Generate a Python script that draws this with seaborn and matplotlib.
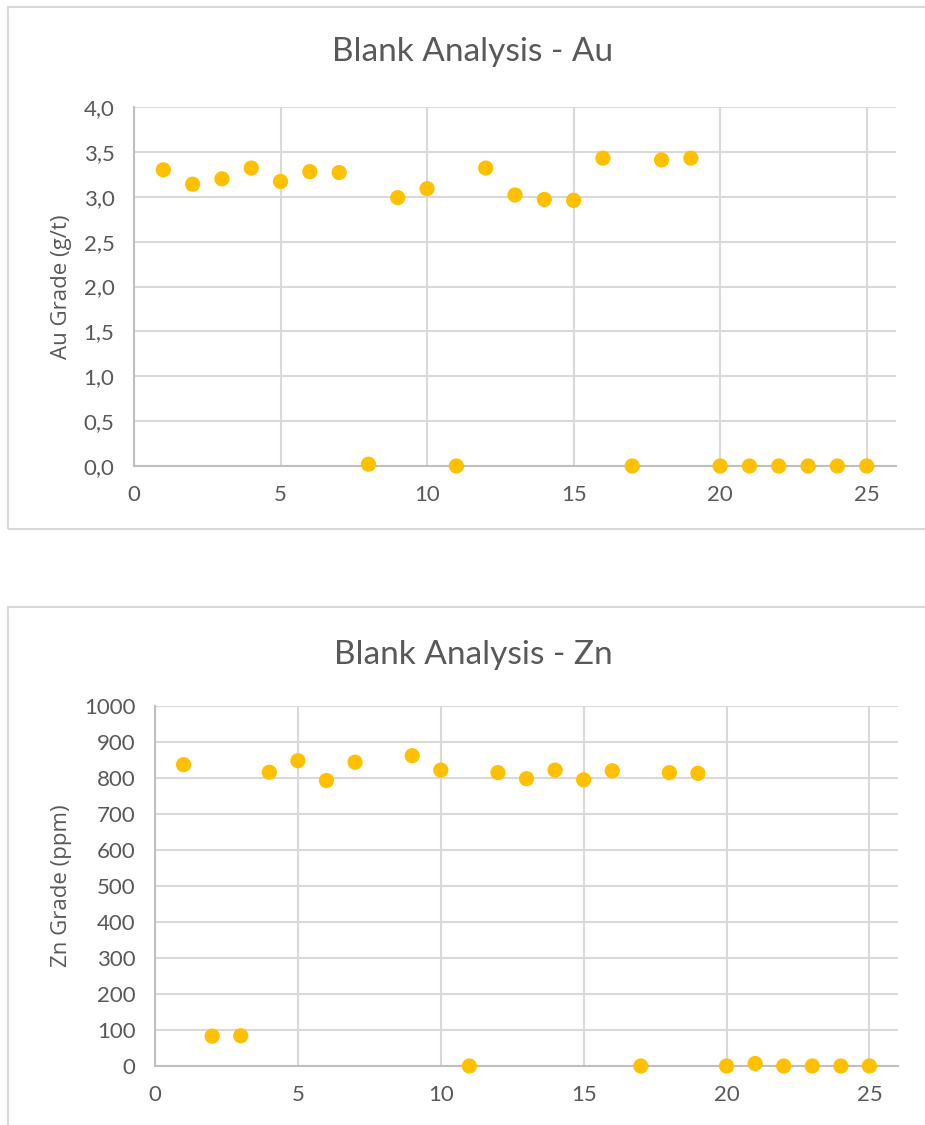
import matplotlib
matplotlib.use("Agg")
import matplotlib.pyplot as plt
from matplotlib.patches import Rectangle
from matplotlib.ticker import FuncFormatter, MultipleLocator
import numpy as np
import pandas as pd
import seaborn as sns

# Blank sample sequence numbers and assay results
au_sample = [1, 2, 3, 4, 5, 6, 7, 8, 9, 10, 11, 12, 13, 14, 15, 16, 17, 18, 19,
             20, 21, 22, 23, 24, 25]
au_grade = [3.30, 3.14, 3.20, 3.32, 3.17, 3.28, 3.27, 0.02, 2.99, 3.09, 0.00,
            3.32, 3.02, 2.97, 2.96, 3.43, 0.00, 3.41, 3.43,
            0.00, 0.00, 0.00, 0.00, 0.00, 0.00]

zn_sample = [1, 2, 3, 4, 5, 6, 7, 9, 10, 11, 12, 13, 14, 15, 16, 17, 18, 19,
             20, 21, 22, 23, 24, 25]
zn_grade = [837, 83, 84, 816, 848, 793, 844, 862, 822, 0, 815, 798, 822, 795,
            820, 0, 815, 813, 0, 7, 0, 0, 0, 0]

au_df = pd.DataFrame({"sample": au_sample, "grade": au_grade})
zn_df = pd.DataFrame({"sample": zn_sample, "grade": zn_grade})

sns.set_theme(style="white")
plt.rcParams["font.family"] = ["Lato", "DejaVu Sans"]

W, H = 925, 1125
fig = plt.figure(figsize=(W / 100, H / 100), dpi=100)
fig.patch.set_facecolor("white")

TEXT = "#595959"
GRID = "#D9D9D9"
AXIS = "#BFBFBF"
GOLD = "#FFC000"


def px_rect(x0, y0, x1, y1):
    return [x0 / W, 1 - y1 / H, (x1 - x0) / W, (y1 - y0) / H]


# chart frames
for (x0, y0, x1, y1) in [(8, 7, 935, 529), (8, 607, 935, 1140)]:
    fig.patches.append(Rectangle((x0 / W, 1 - y1 / H), (x1 - x0) / W, (y1 - y0) / H,
                                 transform=fig.transFigure, fill=False,
                                 edgecolor=GRID, linewidth=1.5))


def style_axis(ax, ylim, ystep, fmt, ylabel, title, title_y, label_px):
    ax.set_xlim(0, 26)
    ax.set_ylim(*ylim)
    ax.yaxis.set_major_locator(MultipleLocator(ystep))
    ax.set_xticks([0, 5, 10, 15, 20, 25])
    ax.yaxis.set_major_formatter(FuncFormatter(fmt))
    ax.grid(True, color=GRID, linewidth=1.5)
    ax.set_axisbelow(True)
    for s in ["top", "right"]:
        ax.spines[s].set_visible(False)
    for s in ["left", "bottom"]:
        ax.spines[s].set_color(AXIS)
        ax.spines[s].set_linewidth(1.5)
    ax.tick_params(axis="both", length=0, labelsize=16, colors=TEXT, pad=14)
    ax.set_xlabel("")
    ax.set_ylabel("")
    pos = ax.get_position()
    fig.text(label_px / W, 1 - ((1 - pos.y1) * H + (pos.y1 - pos.y0) * H / 2) / H,
             ylabel, rotation=90, ha="center", va="center", fontsize=16,
             color=TEXT, fontfamily="Open Sans")
    fig.text(473 / W, 1 - title_y / H, title, ha="center", va="center",
             fontsize=24, color=TEXT)


ax1 = fig.add_axes(px_rect(134, 107, 896, 466))
sns.scatterplot(data=au_df, x="sample", y="grade", ax=ax1, color=GOLD, s=120,
                edgecolor="none", clip_on=False, zorder=3)
style_axis(ax1, (0, 4.0), 0.5, lambda v, p: f"{v:.1f}".replace(".", ","),
           "Au Grade (g/t)", "Blank Analysis - Au", 52, 61)

ax2 = fig.add_axes(px_rect(155, 706, 898, 1066))
sns.scatterplot(data=zn_df, x="sample", y="grade", ax=ax2, color=GOLD, s=120,
                edgecolor="none", clip_on=False, zorder=3)
style_axis(ax2, (0, 1000), 100, lambda v, p: f"{v:.0f}",
           "Zn Grade (ppm)", "Blank Analysis - Zn", 655, 62)

fig.savefig("out.png", dpi=100, facecolor="white")
